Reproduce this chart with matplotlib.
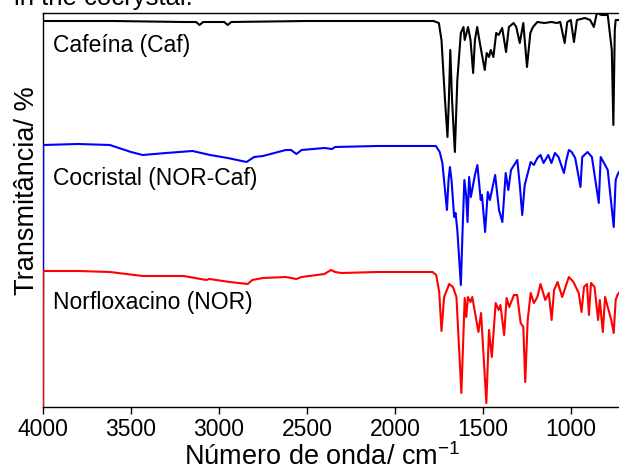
import numpy as np
import matplotlib
matplotlib.use("Agg")
from matplotlib import pyplot as plt

plt.rcParams['font.family'] = ['Liberation Sans', 'DejaVu Sans']
plt.rcParams['mathtext.fontset'] = 'custom'
plt.rcParams['mathtext.rm'] = 'Liberation Sans'
plt.rcParams['mathtext.it'] = 'Liberation Sans'

# Cafeina (Caf)
caf_wn = [3999, 3600, 3200, 3130, 3110, 3090, 2970, 2950, 2930, 2500,
          2000, 1780, 1750, 1735, 1715, 1701, 1693, 1685, 1675, 1659,
          1645, 1625, 1610, 1603, 1584, 1570, 1555, 1545, 1532, 1515,
          1489, 1478, 1465, 1455, 1440, 1424, 1410, 1390, 1368, 1352,
          1325, 1310, 1290, 1270, 1249, 1230, 1215, 1190, 1150, 1110,
          1080, 1060, 1035, 1020, 1000, 982, 965, 920, 890, 869,
          852, 825, 790, 767, 758, 750, 745, 726]
caf_t = [386, 386, 385, 385, 382, 385, 385, 382, 385, 386,
         386, 386, 384, 367, 307, 270, 307, 357, 307, 255,
         327, 374, 380, 367, 380, 367, 334, 367, 380, 362,
         337, 354, 350, 357, 350, 374, 372, 379, 355, 380,
         384, 380, 364, 384, 340, 374, 380, 385, 384, 385,
         384, 385, 364, 385, 387, 365, 387, 389, 387, 380,
         394, 392, 392, 357, 282, 377, 387, 387]

# Cocristal (NOR-Caf)
coc_wn = [4000, 3999, 3800, 3620, 3500, 3433, 3300, 3150, 3050, 2950,
          2843, 2800, 2750, 2620, 2590, 2560, 2530, 2400, 2357, 2340,
          2100, 1800, 1767, 1745, 1730, 1715, 1704, 1695, 1687, 1678,
          1663, 1655, 1645, 1625, 1615, 1605, 1595, 1587, 1578, 1568,
          1545, 1531, 1520, 1512, 1505, 1487, 1472, 1460, 1430, 1408,
          1389, 1370, 1355, 1340, 1304, 1290, 1276, 1262, 1228, 1210,
          1190, 1172, 1155, 1128, 1110, 1090, 1070, 1039, 1025, 1011,
          995, 975, 945, 935, 905, 880, 841, 830, 805, 790,
          756, 745, 735, 726]
coc_t = [120, 262, 263, 262, 255, 252, 254, 256, 252, 249,
         245, 250, 251, 257, 257, 253, 257, 259, 258, 260,
         261, 261, 261, 255, 244, 217, 197, 227, 240, 227,
         190, 194, 177, 122, 177, 227, 212, 185, 230, 210,
         232, 242, 222, 207, 212, 175, 215, 207, 232, 197,
         185, 234, 217, 237, 247, 222, 192, 222, 245, 242,
         249, 252, 244, 252, 244, 254, 250, 234, 247, 257,
         255, 249, 220, 250, 255, 250, 204, 250, 242, 237,
         180, 227, 232, 235]

# Norfloxacino (NOR)
nor_wn = [4000, 3999, 3800, 3620, 3433, 3200, 3072, 3053, 2939, 2836,
          2810, 2750, 2620, 2561, 2530, 2400, 2363, 2340, 2306, 2100,
          1786, 1765, 1748, 1735, 1720, 1691, 1670, 1650, 1622, 1603,
          1594, 1585, 1570, 1560, 1525, 1510, 1480, 1465, 1449, 1427,
          1410, 1400, 1379, 1365, 1350, 1323, 1305, 1285, 1270, 1259,
          1245, 1228, 1210, 1190, 1172, 1145, 1125, 1109, 1095, 1075,
          1049, 1011, 985, 955, 939, 925, 908, 897, 885, 865,
          845, 835, 818, 805, 790, 770, 756, 745, 735, 726]
nor_t = [-13, 136, 136, 135, 131, 131, 127, 128, 125, 123,
         127, 129, 130, 128, 130, 133, 137, 135, 134, 135,
         135, 132, 115, 76, 110, 123, 120, 110, 14, 109,
         90, 110, 105, 110, 75, 94, 4, 77, 50, 104,
         97, 102, 72, 109, 100, 112, 112, 84, 80, 25,
         87, 114, 104, 110, 123, 107, 114, 87, 117, 125,
         110, 130, 125, 114, 95, 120, 123, 92, 124, 120,
         87, 107, 75, 110, 100, 87, 74, 107, 112, 114]

names = ["Cafeína (Caf)", "Cocristal (NOR-Caf)", "Norfloxacino (NOR)"]
label_y = [362, 228, 104]

fig = plt.figure(figsize=(6.19, 4.74), dpi=100)
ax = fig.add_axes([43/619, 67/474, 1 - 43/619, 394/474])

ax.plot(caf_wn, caf_t, color='black', lw=1.5, zorder=3)
ax.plot(coc_wn, coc_t, color='#0000ff', lw=1.5, zorder=3)
ax.plot(nor_wn, nor_t, color='#ff0000', lw=1.5, zorder=3)

for name, yy in zip(names, label_y):
    ax.text(3945, yy, name, fontsize=16.5, va='center', ha='left')

ax.set_xlim(4000, 726)
ax.set_ylim(0, 394)
ax.set_xticks([4000, 3500, 3000, 2500, 2000, 1500, 1000])
ax.set_yticks([])
ax.spines['right'].set_visible(False)
for s in ['left', 'bottom', 'top']:
    ax.spines[s].set_linewidth(1.0)
ax.tick_params(axis='x', direction='out', length=5, width=1, labelsize=16.5, pad=3)

fig.text(322/619, 1 - 457/474, "Número de onda/ cm$^{\\mathrm{-1}}$", fontsize=19.5,
         ha='center', va='center')
fig.text(27/619, 1 - 191/474, "Transmitância/ %", fontsize=19.5,
         rotation=90, ha='center', va='center')
fig.text(14/619, 1 - 5/474, "in the cocrystal.", fontsize=18.5,
         ha='left', va='baseline')

fig.savefig("out.png", dpi=100)
